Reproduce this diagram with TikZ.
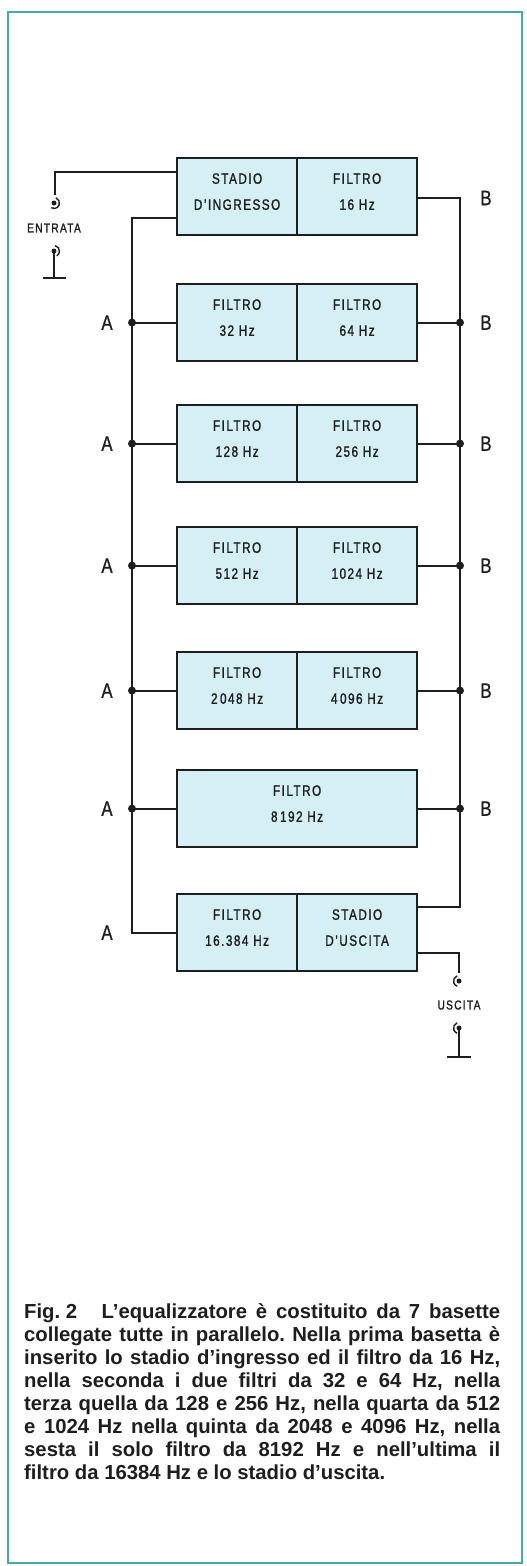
\documentclass[tikz,border=0pt]{standalone}
\usepackage{fontspec}
\setmainfont{Liberation Sans}
\newfontfamily\condf[FakeStretch=0.78,LetterSpace=10,FakeBold=1.3]{Liberation Sans}
\newfontfamily\labf[FakeStretch=0.8,FakeBold=0.9]{Liberation Sans}
\definecolor{boxfill}{RGB}{212,240,244}
\definecolor{framec}{RGB}{70,170,172}
\definecolor{ink}{RGB}{30,30,30}
\begin{document}
\begin{tikzpicture}[x=1pt,y=-1pt,
 wire/.style={draw=ink,line width=1.8pt},
 half/.style={draw=ink,line width=2.2pt,fill=boxfill,minimum width=120pt,minimum height=77pt,inner sep=0pt,anchor=north west},
 whole/.style={half,minimum width=240pt},
 btxt/.style={font=\condf\fontsize{15}{26}\selectfont,align=center,text=ink,inner sep=0pt},
 bdot/.style={circle,fill=ink,inner sep=0pt,minimum size=8pt},
 jdot/.style={circle,fill=ink,inner sep=0pt,minimum size=5pt},
 jarc/.style={draw=ink,line width=1.4pt},
 lab/.style={font=\labf\fontsize{21}{21}\selectfont,text=ink,inner sep=0pt},
 small/.style={font=\condf\fontsize{13}{13}\selectfont,text=ink,inner sep=0pt},
 capt/.style={font=\bfseries\fontsize{20.3}{23.1}\selectfont,text width=476pt,align=justify,inner sep=0pt,text=ink,anchor=north west},
]
\useasboundingbox (0,0) rectangle (527,1566);
\fill[white] (0,0) rectangle (527,1566);
\draw[framec,line width=1.5pt] (8,12) rectangle (522,1563);

% boxes
\node[half] (b1l) at (176,157) {};
\node[half] (b1r) at (296,157) {};
\node[half] (b2l) at (176,283) {};
\node[half] (b2r) at (296,283) {};
\node[half] (b3l) at (176,404) {};
\node[half] (b3r) at (296,404) {};
\node[half] (b4l) at (176,526) {};
\node[half] (b4r) at (296,526) {};
\node[half] (b5l) at (176,651) {};
\node[half] (b5r) at (296,651) {};
\node[whole] (b6) at (176,769) {};
\node[half] (b7l) at (176,893) {};
\node[half] (b7r) at (296,893) {};

% box texts
\node[btxt] (t1l) at ([yshift=5pt]b1l.center) {STADIO\\D’INGRESSO};
\node[btxt] (t1r) at ([yshift=5pt]b1r.center) {FILTRO\\16 Hz};
\node[btxt] (t2l) at ([yshift=5pt]b2l.center) {FILTRO\\32 Hz};
\node[btxt] (t2r) at ([yshift=5pt]b2r.center) {FILTRO\\64 Hz};
\node[btxt] (t3l) at ([yshift=5pt]b3l.center) {FILTRO\\128 Hz};
\node[btxt] (t3r) at ([yshift=5pt]b3r.center) {FILTRO\\256 Hz};
\node[btxt] (t4l) at ([yshift=5pt]b4l.center) {FILTRO\\512 Hz};
\node[btxt] (t4r) at ([yshift=5pt]b4r.center) {FILTRO\\1024 Hz};
\node[btxt] (t5l) at ([yshift=5pt]b5l.center) {FILTRO\\2\,048 Hz};
\node[btxt] (t5r) at ([yshift=5pt]b5r.center) {FILTRO\\4\,096 Hz};
\node[btxt] (t6) at ([yshift=5pt]b6.center) {FILTRO\\8\,192 Hz};
\node[btxt] (t7l) at ([yshift=5pt]b7l.center) {FILTRO\\16.384 Hz};
\node[btxt] (t7r) at ([yshift=5pt]b7r.center) {STADIO\\D’USCITA};

% buses
\coordinate (aTop) at (132,218);
\coordinate (aBot) at (b7l.west -| aTop);
\coordinate (bTop) at (460,198);
\coordinate (bBot) at (460,907);
\draw[wire] (b1l.west |- aTop) -- (aTop) -- (aBot) -- (b7l.west);
\draw[wire] (b1r.east |- bTop) -- (bTop) -- (bBot) -- (b7r.east |- bBot);

\node[bdot] (a2) at (b2l.west -| aTop) {};
\node[bdot] (a3) at (b3l.west -| aTop) {};
\node[bdot] (a4) at (b4l.west -| aTop) {};
\node[bdot] (a5) at (b5l.west -| aTop) {};
\node[bdot] (a6) at (b6.west -| aTop) {};
\node[bdot] (c2) at (b2r.east -| bTop) {};
\node[bdot] (c3) at (b3r.east -| bTop) {};
\node[bdot] (c4) at (b4r.east -| bTop) {};
\node[bdot] (c5) at (b5r.east -| bTop) {};
\node[bdot] (c6) at (b6.east -| bTop) {};
\draw[wire] (b2l.west) -- (a2.center);
\draw[wire] (b3l.west) -- (a3.center);
\draw[wire] (b4l.west) -- (a4.center);
\draw[wire] (b5l.west) -- (a5.center);
\draw[wire] (b6.west) -- (a6.center);
\draw[wire] (b2r.east) -- (c2.center);
\draw[wire] (b3r.east) -- (c3.center);
\draw[wire] (b4r.east) -- (c4.center);
\draw[wire] (b5r.east) -- (c5.center);
\draw[wire] (b6.east) -- (c6.center);

% labels
\node[lab] (la2) at ([xshift=-25pt]a2.center) {A};
\node[lab] (la3) at ([xshift=-25pt]a3.center) {A};
\node[lab] (la4) at ([xshift=-25pt]a4.center) {A};
\node[lab] (la5) at ([xshift=-25pt]a5.center) {A};
\node[lab] (la6) at ([xshift=-25pt]a6.center) {A};
\node[lab] (la7) at ([xshift=-25pt]aBot) {A};
\node[lab] (lb1) at ([xshift=26pt]bTop) {B};
\node[lab] (lb2) at ([xshift=26pt]c2.center) {B};
\node[lab] (lb3) at ([xshift=26pt]c3.center) {B};
\node[lab] (lb4) at ([xshift=26pt]c4.center) {B};
\node[lab] (lb5) at ([xshift=26pt]c5.center) {B};
\node[lab] (lb6) at ([xshift=26pt]c6.center) {B};

% input
\coordinate (inC) at (55,172);
\coordinate (inE) at (55,195);
\draw[wire] (b1l.west |- inC) -- (inC) -- (inE);
\node[jdot] (jin1) at (54,203) {};
\draw[jarc] ([shift={(70:5.5pt)}]jin1.center) arc[start angle=70,end angle=-120,radius=5.5pt];
\node[small] (entr) at (54,228) {ENTRATA};
\node[jdot] (jin2) at (54,251) {};
\draw[jarc] ([shift={(80:5.5pt)}]jin2.center) arc[start angle=80,end angle=-60,radius=5.5pt];
\coordinate (g1) at (54,278);
\draw[wire] (jin2.center) -- (g1);
\draw[wire] ([xshift=-11pt]g1) -- ([xshift=12pt]g1);

% output
\coordinate (outC) at (459,953);
\coordinate (outE) at (459,973);
\draw[wire] (b7r.east |- outC) -- (outC) -- (outE);
\node[jdot] (jo1) at (459,981) {};
\draw[jarc] ([shift={(110:5.5pt)}]jo1.center) arc[start angle=110,end angle=250,radius=5.5pt];
\node[small] (usc) at (459,1005) {USCITA};
\node[jdot] (jo2) at (459,1028) {};
\draw[jarc] ([shift={(110:5.5pt)}]jo2.center) arc[start angle=110,end angle=250,radius=5.5pt];
\coordinate (g2) at (459,1057);
\draw[wire] (jo2.center) -- (g2);
\draw[wire] ([xshift=-12pt]g2) -- ([xshift=12pt]g2);

% caption
\node[capt] (cap) at (24,1303) {\frenchspacing\mbox{Fig.\ 2}\hspace{1.2em}L’equalizzatore è costituito da 7 basette\linebreak
collegate tutte in parallelo. Nella prima basetta è\linebreak
inserito lo stadio d’ingresso ed il filtro da 16 Hz,\linebreak
nella seconda i due filtri da 32 e 64 Hz, nella\linebreak
terza quella da 128 e 256 Hz, nella quarta da 512\linebreak
e 1024 Hz nella quinta da 2048 e 4096 Hz, nella\linebreak
sesta il solo filtro da 8192 Hz e nell’ultima il\linebreak
filtro da 16384 Hz e lo stadio d’uscita.};
\end{tikzpicture}
\end{document}
